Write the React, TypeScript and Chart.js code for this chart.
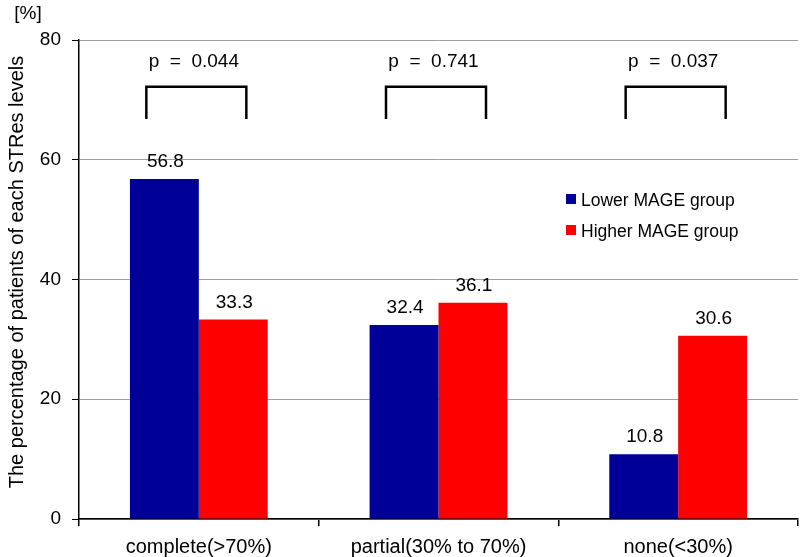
import React, { useEffect, useRef } from "react";
import { Chart, registerables } from "chart.js";

Chart.register(...registerables);

const categories = ["complete(>70%)", "partial(30% to 70%)", "none(<30%)"];
const lowerMage = [56.8, 32.4, 10.8];
const higherMage = [33.3, 36.1, 30.6];
const pValues = ["p = 0.044", "p = 0.741", "p = 0.037"];
const seriesNames = ["Lower MAGE group", "Higher MAGE group"];
const yTicks = [0, 20, 40, 60, 80];
const yTitle = "The percentage of patients of each STRes levels";
const yUnit = "[%]";

const FONT = "'Liberation Sans', Arial, Helvetica, sans-serif";
const COLORS = ["#000099", "#ff0000"];

const overlayPlugin = {
  id: "overlay",
  afterDatasetsDraw(chart: any) {
    const ctx = chart.ctx;
    const x = chart.scales.x;
    const y = chart.scales.y;
    ctx.save();
    // data labels
    ctx.fillStyle = "#000";
    ctx.font = `19px ${FONT}`;
    ctx.textAlign = "center";
    ctx.textBaseline = "alphabetic";
    chart.data.datasets.forEach((ds: any, di: number) => {
      const meta = chart.getDatasetMeta(di);
      meta.data.forEach((el: any, i: number) => {
        ctx.fillText(ds.data[i].toFixed(1), el.x + 1, el.y - 12);
      });
    });
    // p-value brackets
    categories.forEach((_, i) => {
      const cx = x.getPixelForValue(i);
      const half = 50;
      const bx = cx - 2.5;
      const top = y.getPixelForValue(72.2);
      const bot = y.getPixelForValue(66.8);
      ctx.strokeStyle = "#000";
      ctx.lineWidth = 2.5;
      ctx.beginPath();
      ctx.moveTo(bx - half, bot);
      ctx.lineTo(bx - half, top);
      ctx.lineTo(bx + half, top);
      ctx.lineTo(bx + half, bot);
      ctx.stroke();
      ctx.font = `19px ${FONT}`;
      ctx.textBaseline = "alphabetic";
      ctx.fillText(pValues[i].replace(/ /g, "  "), cx - 5, y.getPixelForValue(75.5));
    });
    // legend
    ctx.textAlign = "left";
    ctx.font = `17.5px ${FONT}`;
    seriesNames.forEach((name, i) => {
      const ly = 194 + i * 31;
      ctx.fillStyle = COLORS[i];
      ctx.fillRect(566, ly, 10, 10);
      ctx.fillStyle = "#000";
      ctx.fillText(name, 581, ly + 12);
    });
    // [%]
    ctx.font = `19px ${FONT}`;
    ctx.textAlign = "center";
    ctx.fillText(yUnit, 28, 19);
    // y title
    ctx.translate(23, 272);
    ctx.rotate(-Math.PI / 2);
    ctx.font = `20px ${FONT}`;
    ctx.fillText(yTitle, 0, 0);
    ctx.restore();
  },
};

export default function App() {
  const ref = useRef<HTMLCanvasElement>(null);
  useEffect(() => {
    document.body.style.margin = "0";
    const chart = new Chart(ref.current!, {
      type: "bar",
      data: {
        labels: categories,
        datasets: [
          { label: seriesNames[0], data: lowerMage, backgroundColor: COLORS[0] },
          { label: seriesNames[1], data: higherMage, backgroundColor: COLORS[1] },
        ],
      },
      options: {
        animation: false,
        responsive: false,
        layout: { padding: { top: 40, right: 2, left: 0, bottom: 0 } },
        plugins: { legend: { display: false }, tooltip: { enabled: false } },
        datasets: { bar: { categoryPercentage: 0.575, barPercentage: 1 } },
        scales: {
          x: {
            grid: {
              offset: true,
              drawOnChartArea: false,
              tickLength: 7,
              tickColor: "#000",
              color: "#000",
              lineWidth: 1.5,
            },
            border: { color: "#000", width: 1.5 },
            ticks: { color: "#000", font: { size: 20, family: FONT }, padding: 9 },
            afterFit: (s: any) => { s.height = 38; },
          },
          y: {
            min: 0,
            max: 80,
            afterBuildTicks: (s: any) => { s.ticks = yTicks.map((v) => ({ value: v })); },
            grid: {
              color: "#a0a0a0",
              lineWidth: 1,
              tickLength: 7,
              tickColor: "#000",
            },
            border: { color: "#000", width: 1.5 },
            ticks: { color: "#000", font: { size: 19, family: FONT }, padding: 11 },
            afterFit: (s: any) => { s.width = 79; },
          },
        },
      },
      plugins: [overlayPlugin],
    });
    return () => chart.destroy();
  }, []);
  return <canvas ref={ref} width={800} height={557} />;
}
